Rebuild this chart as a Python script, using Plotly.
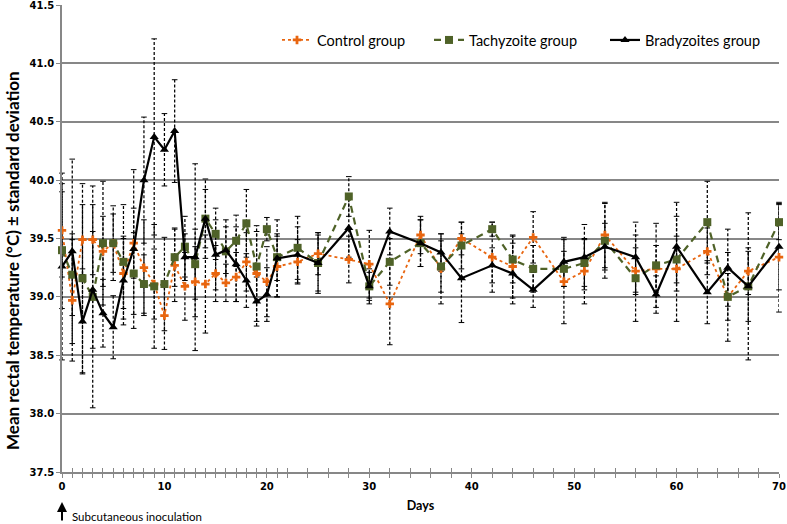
import plotly.graph_objects as go

# ---------------- data ----------------
days = list(range(0, 22)) + [23, 25, 28, 30, 32, 35, 37, 39, 42, 44, 46, 49, 51, 53, 56, 58, 60, 63, 65, 67, 70]

control = [39.57, 38.97, 39.49, 39.49, 39.39, 39.46, 39.20, 39.46, 39.25, 39.11, 38.84, 39.27, 39.09, 39.13,
           39.11, 39.20, 39.12, 39.17, 39.30, 39.20, 39.13, 39.26,
           39.30, 39.37, 39.32, 39.28, 38.94, 39.53, 39.24, 39.50, 39.34, 39.26, 39.51, 39.13, 39.22, 39.53,
           39.22, 39.24, 39.24, 39.39, 39.00, 39.22, 39.34]
control_sd = [0.40, 0.52, 0.30, 0.30, 0.30, 0.25, 0.30, 0.30, 0.41, 0.30, 0.29, 0.31, 0.29, 0.30,
              0.42, 0.24, 0.16, 0.21, 0.25, 0.41, 0.30, 0.26,
              0.19, 0.18, 0.20, 0.29, 0.35, 0.16, 0.30, 0.14, 0.30, 0.27, 0.22, 0.36, 0.28, 0.28,
              0.20, 0.20, 0.45, 0.20, 0.38, 0.20, 0.47]

tachy = [39.40, 39.19, 39.16, 39.00, 39.46, 39.46, 39.30, 39.20, 39.11, 39.09, 39.11, 39.34, 39.43, 39.28,
         39.67, 39.54, 39.39, 39.48, 39.63, 39.26, 39.58, 39.34,
         39.42, 39.29, 39.86, 39.09, 39.30, 39.46, 39.26, 39.44, 39.58, 39.32, 39.24, 39.24, 39.29, 39.48,
         39.16, 39.27, 39.32, 39.64, 39.00, 39.09, 39.64]
tachy_sd = [0.50, 0.35, 0.81, 0.95, 0.53, 0.32, 0.49, 0.35, 0.25, 0.53, 0.40, 0.25, 0.26, 0.30,
            0.34, 0.22, 0.27, 0.22, 0.29, 0.30, 0.10, 0.20,
            0.27, 0.26, 0.17, 0.15, 0.20, 0.20, 0.22, 0.20, 0.06, 0.20, 0.20, 0.15, 0.20, 0.32,
            0.37, 0.36, 0.20, 0.35, 0.20, 0.30, 0.15]

brady = [39.26, 39.39, 38.79, 39.06, 38.86, 38.74, 39.14, 39.41, 40.00, 40.37, 40.26, 40.42, 39.34, 39.34,
         39.67, 39.36, 39.40, 39.28, 39.14, 38.96, 39.02, 39.33,
         39.36, 39.29, 39.59, 39.09, 39.56, 39.46, 39.38, 39.16, 39.27, 39.20, 39.06, 39.30, 39.34, 39.43,
         39.34, 39.02, 39.43, 39.04, 39.25, 39.09, 39.43]
brady_sd = [0.80, 0.79, 0.45, 0.50, 0.29, 0.27, 0.38, 0.68, 0.54, 0.84, 0.31, 0.44, 0.20, 0.80,
            0.25, 0.30, 0.20, 0.32, 0.23, 0.21, 0.23, 0.33,
            0.24, 0.24, 0.25, 0.12, 0.20, 0.20, 0.16, 0.38, 0.15, 0.26, 0.15, 0.21, 0.28, 0.20,
            0.30, 0.16, 0.38, 0.27, 0.33, 0.63, 0.37]

series_names = ["Control group", "Tachyzoite group", "Bradyzoites group"]
x_tick_labels = ["0", "10", "20", "30", "40", "50", "60", "70"]
x_minor_ticks = list(range(0, 22)) + list(range(22, 71, 2))
y_tick_labels = ["37.5", "38.0", "38.5", "39.0", "39.5", "40.0", "40.5", "41.0", "41.5"]

FONT = "Lato"
TICKFONT = "DejaVu Sans"

L, R, T, B = 62, 8, 5, 52
W, H = 787, 524
PW, PH = W - L - R, H - T - B

fig = go.Figure()

# ---------------- error bars (black, dashed) ----------------
def err_segments(xs, vals, sds):
    ex, ey, cx, cy = [], [], [], []
    for d, v, s in zip(xs, vals, sds):
        ex += [d, d, None]
        ey += [v - s, v + s, None]
        cx += [d, d]
        cy += [v - s, v + s]
    return ex, ey, cx, cy

for vals, sds in [(control, control_sd), (tachy, tachy_sd), (brady, brady_sd)]:
    ex, ey, cx, cy = err_segments(days, vals, sds)
    fig.add_trace(go.Scatter(x=ex, y=ey, mode="lines", showlegend=False, hoverinfo="skip",
                             line=dict(color="black", width=1.25, dash="3px,2px"), cliponaxis=False))
    fig.add_trace(go.Scatter(x=cx, y=cy, mode="markers", showlegend=False, hoverinfo="skip",
                             marker=dict(symbol="line-ew", size=4, line=dict(color="black", width=1)),
                             cliponaxis=False))

# ---------------- main series ----------------
fig.add_trace(go.Scatter(x=days, y=control, name=series_names[0], mode="lines+markers", legend="legend",
                         line=dict(color="#E8650F", width=1.8, dash="dot"),
                         marker=dict(symbol="cross", size=7, color="#E8650F"), cliponaxis=False))
fig.add_trace(go.Scatter(x=days, y=tachy, name=series_names[1], mode="lines+markers", legend="legend2",
                         line=dict(color="#4F6228", width=2.2, dash="7px,5px"),
                         marker=dict(symbol="square", size=8, color="#4F6228"), cliponaxis=False))
fig.add_trace(go.Scatter(x=days, y=brady, name=series_names[2], mode="lines+markers", legend="legend3",
                         line=dict(color="black", width=2.2),
                         marker=dict(symbol="triangle-up", size=8, color="black"), cliponaxis=False))
# invisible trace so the overlaid tick axis exists
fig.add_trace(go.Scatter(x=[None], y=[None], xaxis="x2", showlegend=False, hoverinfo="skip"))

grid_col = "#878787"

def legend_at(px):
    return dict(orientation="h", x=(px - L) / PW, y=0.925, xanchor="left", yanchor="middle",
                font=dict(family=FONT, size=14.5, color="black"), bgcolor="rgba(0,0,0,0)",
                itemwidth=30)

fig.update_layout(
    width=W, height=H,
    margin=dict(l=L, r=R, t=T, b=B, autoexpand=False),
    paper_bgcolor="white", plot_bgcolor="white",
    font=dict(family=FONT, color="black", size=12),
    showlegend=True,
    legend=legend_at(277),
    legend2=legend_at(429),
    legend3=legend_at(605),
    xaxis=dict(range=[0, 70], tickvals=[int(t) for t in x_tick_labels], ticktext=x_tick_labels,
               ticks="outside", ticklen=4, tickcolor=grid_col, tickwidth=1,
               minor=dict(tickmode="array", tickvals=x_minor_ticks, ticks="outside", ticklen=4,
                          tickcolor=grid_col, tickwidth=1),
               ticklabeloverflow="allow",
               showgrid=False, zeroline=False, showline=True, linecolor=grid_col, linewidth=1.5,
               tickfont=dict(family=TICKFONT, size=10, color="black", weight="bold"),
               title=dict(text="<b>Days</b>", font=dict(family=FONT, size=12.5), standoff=10)),
    xaxis2=dict(range=[0, 70], overlaying="x", anchor="y", side="bottom", showticklabels=False,
                tickvals=[int(t) for t in x_tick_labels], ticks="inside", ticklen=4,
                tickcolor=grid_col, tickwidth=1,
                minor=dict(tickmode="array", tickvals=x_minor_ticks, ticks="inside", ticklen=4,
                           tickcolor=grid_col, tickwidth=1),
                showgrid=False, zeroline=False, showline=False),
    yaxis=dict(range=[37.5, 41.5], tickvals=[float(t) for t in y_tick_labels], ticktext=y_tick_labels,
               ticks="outside", ticklen=4, tickcolor=grid_col, tickwidth=1,
               ticklabeloverflow="allow",
               showgrid=True, gridcolor=grid_col, gridwidth=1.5, zeroline=False,
               showline=True, linecolor=grid_col, linewidth=1.5,
               tickfont=dict(family=TICKFONT, size=10, color="black", weight="bold")),
)

# y-axis title (placed slightly below the plot centre, as in the original)
fig.add_annotation(x=(12 - L) / PW, xref="paper", y=(H - B - 261) / PH, yref="paper",
                   xanchor="center", yanchor="middle", textangle=-90, showarrow=False,
                   text="<b>Mean rectal temperature (°C) ± standard deviation</b>",
                   font=dict(family=FONT, size=17, color="black"))

# arrow + inoculation label
fig.add_annotation(x=0, xref="x", y=-30 / PH, yref="paper", ax=0, ay=20, text="",
                   showarrow=True, arrowhead=2, arrowsize=1, arrowwidth=2, arrowcolor="black")
fig.add_annotation(x=8 / PW, xref="paper", y=-44 / PH, yref="paper", xanchor="left", yanchor="middle",
                   text="Subcutaneous inoculation", showarrow=False,
                   font=dict(family=FONT, size=11.5, color="black"))

fig.write_html("out.html", config={"displayModeBar": False},
               post_script="document.body.style.margin='0';document.body.style.padding='0';")
